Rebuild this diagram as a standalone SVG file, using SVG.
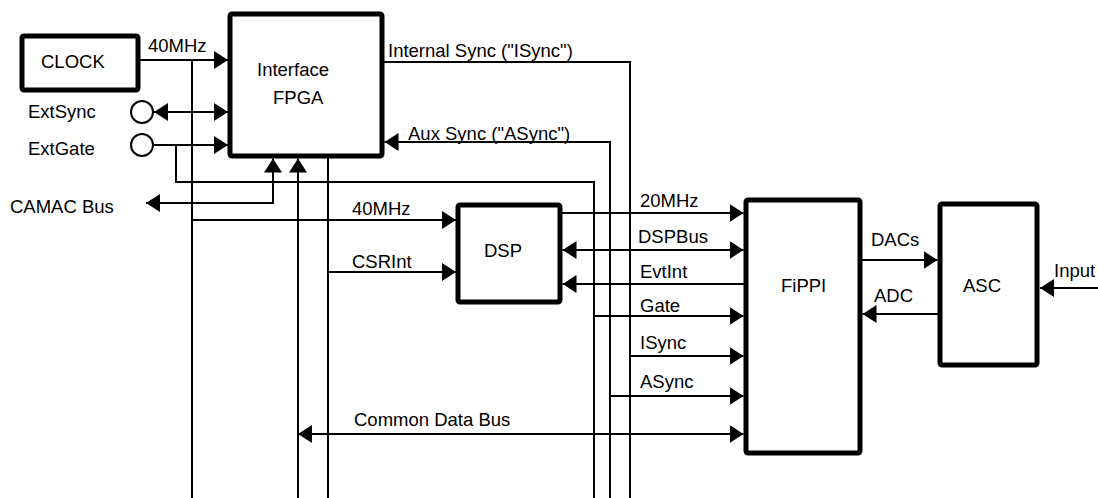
<svg xmlns="http://www.w3.org/2000/svg" width="1098" height="498" viewBox="0 0 1098 498">
<style>
.box{fill:#fff;stroke:#000;stroke-width:5;stroke-linejoin:round}
.port{fill:#fff;stroke:#000;stroke-width:2}
.w{fill:none;stroke:#000;stroke-width:2}
.a{marker-end:url(#ah)}
.aa{marker-end:url(#ah);marker-start:url(#ah)}
.as{marker-start:url(#ah)}
text{font-family:"Liberation Sans",Arial,sans-serif;font-size:18.5px;fill:#000}
</style>
<defs>
<marker id="ah" viewBox="0 0 14 18" refX="14" refY="9" markerWidth="14" markerHeight="18" markerUnits="userSpaceOnUse" orient="auto-start-reverse">
<path d="M0,0 L14,9 L0,18 Z" fill="#000"/>
</marker>
</defs>
<g id="clock"><rect class="box" x="22" y="36" width="116" height="54" rx="2"/><text x="41" y="68">CLOCK</text></g>
<g id="fpga"><rect class="box" x="230" y="14" width="152" height="142" rx="2"/><text x="257" y="76">Interface</text><text x="273" y="104">FPGA</text></g>
<g id="dsp"><rect class="box" x="458" y="205" width="102" height="97" rx="2"/><text x="484" y="257">DSP</text></g>
<g id="fippi"><rect class="box" x="746" y="200" width="114" height="253" rx="2"/><text x="781" y="292">FiPPI</text></g>
<g id="asc"><rect class="box" x="940" y="204" width="97" height="161" rx="2"/><text x="963" y="292">ASC</text></g>
<g id="extsync"><circle class="port" cx="142" cy="112" r="11"/><text x="28" y="118">ExtSync</text></g>
<g id="extgate"><circle class="port" cx="142" cy="145" r="11"/><text x="28" y="155">ExtGate</text></g>
<g id="camac"><text x="10" y="213">CAMAC Bus</text></g>
<g id="input"><text x="1054" y="277">Input</text></g>
<g id="connectors">
<path class="w a" d="M140,60 H228"/>
<path class="w" d="M192,60 V498"/>
<path class="w a" d="M192,220 H456"/>
<path class="w aa" d="M154,112 H228"/>
<path class="w a" d="M154,145 H228"/>
<path class="w" d="M176,145 V182 H594 V498"/>
<path class="w aa" d="M273,158.5 V203 H146"/>
<path class="w as" d="M298,158.5 V498"/>
<path class="w aa" d="M298,434 H743.5"/>
<path class="w" d="M328,156 V498"/>
<path class="w a" d="M328,272 H456"/>
<path class="w" d="M382,62 H630 V498"/>
<path class="w a" d="M630,356 H743.5"/>
<path class="w a" d="M610,498 V142 H384.5"/>
<path class="w a" d="M610,396 H743.5"/>
<path class="w a" d="M594,316 H743.5"/>
<path class="w a" d="M560,213 H743.5"/>
<path class="w aa" d="M562.5,250 H743.5"/>
<path class="w a" d="M746,284 H562.5"/>
<path class="w a" d="M860,260 H937.5"/>
<path class="w a" d="M940,314 H862.5"/>
<path class="w a" d="M1098,288 H1040"/>
<text x="148" y="52">40MHz</text>
<text x="388" y="57">Internal Sync ("ISync")</text>
<text x="408" y="140">Aux Sync ("ASync")</text>
<text x="352" y="215">40MHz</text>
<text x="352" y="268">CSRInt</text>
<text x="640" y="207">20MHz</text>
<text x="638" y="243">DSPBus</text>
<text x="640" y="278">EvtInt</text>
<text x="640" y="312">Gate</text>
<text x="640" y="349">ISync</text>
<text x="640" y="388">ASync</text>
<text x="354" y="426">Common Data Bus</text>
<text x="871" y="246">DACs</text>
<text x="874" y="302">ADC</text>
</g>
</svg>
